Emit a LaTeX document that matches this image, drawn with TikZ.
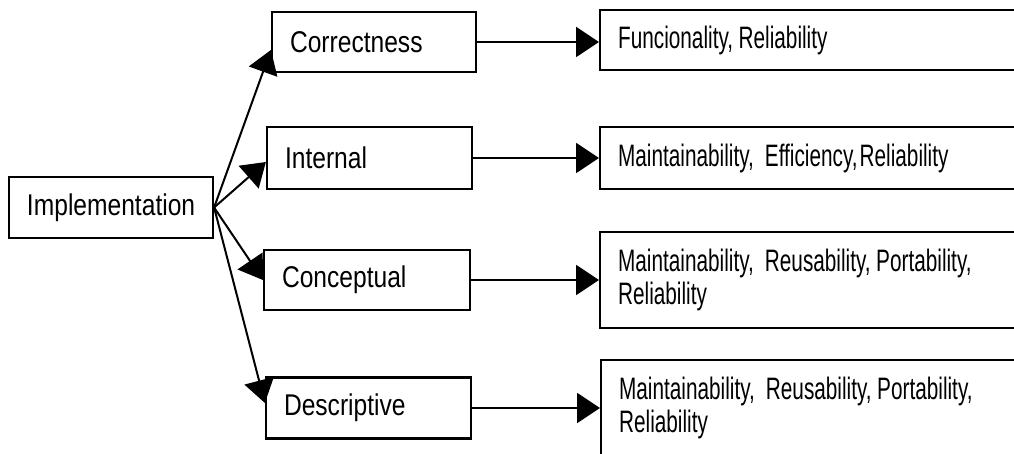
\documentclass[tikz,border=0pt]{standalone}
\usepackage{fontspec}
\newfontfamily\lfont[FakeStretch=0.82]{Liberation Sans}
\newfontfamily\rfont[FakeStretch=0.67]{Liberation Sans}
\newcommand\rightsetup{\rfont\fontsize{31}{33}\selectfont}
\newcommand\leftsetup{\lfont\fontsize{30}{33}\selectfont}
\newcommand\wsp{\hspace{5.5pt}}
\usetikzlibrary{arrows.meta}
\begin{document}
\begin{tikzpicture}[x=1pt,y=-1pt,
  box/.style={draw, line width=2.2pt, inner xsep=18pt, inner ysep=0pt, align=left},
  lbox/.style={box, font=\leftsetup},
  rbox/.style={box, font=\rightsetup, anchor=west, text width=400pt},
  arr/.style={line width=2pt, -{Triangle[length=23pt,width=30pt]}}]
\useasboundingbox (0,0) rectangle (1014,454);
\clip (0,0) rectangle (1014,454);
\fill[white] (0,0) rectangle (1014,454);

\node[lbox, text width=168pt, minimum height=61pt] (impl) at (111,207.5) {Implementation};
\node[lbox, text width=168pt, minimum height=60pt] (corr) at (374,42) {Correctness};
\node[lbox, text width=169pt, minimum height=62pt] (intern) at (369.5,158) {Internal};
\node[lbox, text width=170pt, minimum height=60pt] (concep) at (367,280) {Conceptual};
\node[lbox, text width=169pt, minimum height=61pt] (descr) at (368.5,408) {Descriptive};

\node[rbox, minimum height=60pt] (r1) at (599,40) {Funcionality,\wsp Reliability};
\node[rbox, minimum height=62pt] (r2) at (599,158) {Maintainability,\wsp\wsp Efficiency,\hspace{2pt}Reliability};
\node[rbox, minimum height=96pt] (r3) at (599,280) {Maintainability,\wsp\wsp Reusability,\wsp Portability,\\Reliability};
\node[rbox, minimum height=96pt] (r4) at (600,408) {Maintainability,\wsp\wsp Reusability,\wsp Portability,\\Reliability};

\draw[arr] (impl.east) -- ([yshift=-8pt]corr.west);
\draw[arr] (impl.east) -- ([yshift=-4pt]intern.west);
\draw[arr] (impl.east) -- (concep.west);
\draw[arr] (impl.east) -- ([yshift=5pt]descr.west);

\draw[arr] (corr.east) -- (corr.east -| r1.west);
\draw[arr] (intern.east) -- (intern.east -| r2.west);
\draw[arr] (concep.east) -- (concep.east -| r3.west);
\draw[arr] (descr.east) -- (descr.east -| r4.west);
\end{tikzpicture}
\end{document}
